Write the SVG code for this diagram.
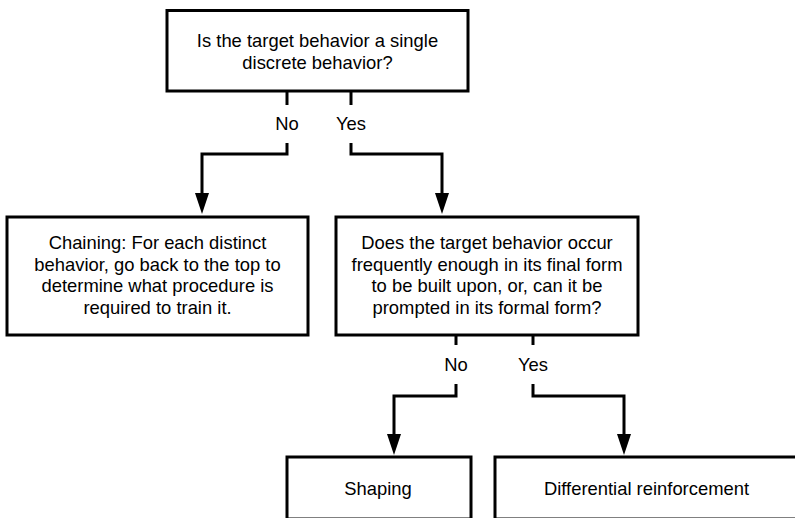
<svg xmlns="http://www.w3.org/2000/svg" width="795" height="518" viewBox="0 0 795 518">
<style>
.box{fill:#fff;stroke:#000;stroke-width:3}
.t{font-family:"Liberation Sans",Arial,Helvetica,sans-serif;font-size:18.4px;fill:#000;text-anchor:middle}
.c{fill:none;stroke:#000;stroke-width:3}
.ah{fill:#000}
</style>
<rect width="795" height="518" fill="#fff"/>
<g id="connectors">
<path class="c" d="M287,91 V105"/>
<path class="c" d="M287,143 V154 H202 V196"/>
<path class="c" d="M351,91 V105"/>
<path class="c" d="M351,143 V154 H442 V196"/>
<path class="ah" d="M195,193 L209,193 L202,214 Z"/>
<path class="ah" d="M435,193 L449,193 L442,214 Z"/>
<path class="c" d="M456,335 V345"/>
<path class="c" d="M456,384 V396 H394 V437"/>
<path class="c" d="M533,335 V345"/>
<path class="c" d="M533,384 V396 H624 V437"/>
<path class="ah" d="M387,434 L401,434 L394,455 Z"/>
<path class="ah" d="M617,434 L631,434 L624,455 Z"/>
<text class="t" x="287" y="130">No</text>
<text class="t" x="351" y="130">Yes</text>
<text class="t" x="456" y="371">No</text>
<text class="t" x="533" y="371">Yes</text>
</g>
<g id="n1">
<rect class="box" x="167" y="10.5" width="301" height="80.5"/>
<text class="t" x="317.5" y="47">Is the target behavior a single</text>
<text class="t" x="317.5" y="68.5">discrete behavior?</text>
</g>
<g id="n2">
<rect class="box" x="7" y="217" width="301" height="118"/>
<text class="t" x="157.5" y="249">Chaining: For each distinct</text>
<text class="t" x="157.5" y="270.7">behavior, go back to the top to</text>
<text class="t" x="157.5" y="292.4">determine what procedure is</text>
<text class="t" x="157.5" y="314">required to train it.</text>
</g>
<g id="n3">
<rect class="box" x="336" y="217" width="302" height="118"/>
<text class="t" x="487" y="249">Does the target behavior occur</text>
<text class="t" x="487" y="270.7">frequently enough in its final form</text>
<text class="t" x="487" y="292.4">to be built upon, or, can it be</text>
<text class="t" x="487" y="314">prompted in its formal form?</text>
</g>
<g id="n4">
<rect class="box" x="287" y="457" width="184" height="62"/>
<text class="t" x="378" y="495">Shaping</text>
</g>
<g id="n5">
<rect class="box" x="495" y="457" width="303" height="62"/>
<text class="t" x="646.5" y="495">Differential reinforcement</text>
</g>
</svg>
